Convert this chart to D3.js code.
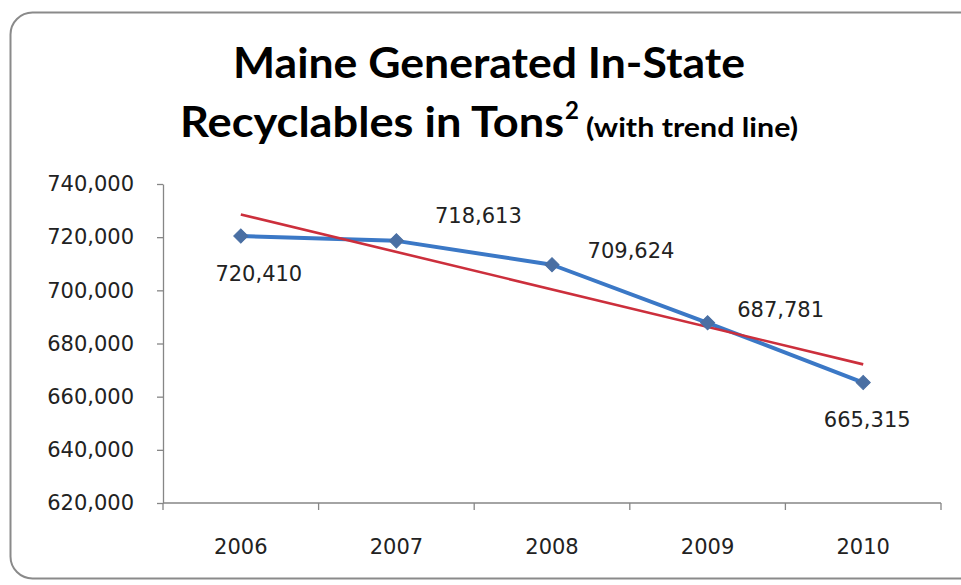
<!DOCTYPE html>
<html>
<head>
<meta charset="utf-8">
<script src="https://cdn.jsdelivr.net/npm/d3@7"></script>
<style>
  html, body { margin: 0; padding: 0; background: #ffffff; }
  svg { display: block; }
</style>
</head>
<body>
<svg id="chart" width="961" height="585"></svg>
<script>
// ---- data ----
const years = ["2006", "2007", "2008", "2009", "2010"];
const tons = [720410, 718613, 709624, 687781, 665315];
const yTicks = [620000, 640000, 660000, 680000, 700000, 720000, 740000];
const titleLine1 = "Maine Generated In-State";
const titleLine2 = "Recyclables in Tons";
const titleSup = "2";
const titleNote = "(with trend line)";

// label placement offsets (styling, relative to each point)
const labelDx = [18, 82, 79, 73, 4];
const labelDy = [45, -18, -7, -6, 44];

const svg = d3.select("#chart");

// chart frame
svg.append("rect")
  .attr("x", 10.5).attr("y", 12.5)
  .attr("width", 975).attr("height", 566)
  .attr("rx", 22).attr("ry", 22)
  .attr("fill", "#ffffff")
  .attr("stroke", "#8a8a8a")
  .attr("stroke-width", 2);

// title
const titleFont = "Lato, 'Open Sans', sans-serif";
svg.append("text")
  .attr("x", 233).attr("y", 78)
  .attr("font-family", titleFont).attr("font-weight", 700)
  .attr("font-size", 42).attr("fill", "#000")
  .attr("textLength", 512).attr("lengthAdjust", "spacingAndGlyphs")
  .text(titleLine1);
svg.append("text")
  .attr("x", 180).attr("y", 137)
  .attr("font-family", titleFont).attr("font-weight", 700)
  .attr("font-size", 42).attr("fill", "#000")
  .attr("textLength", 384).attr("lengthAdjust", "spacingAndGlyphs")
  .text(titleLine2);
svg.append("text")
  .attr("x", 565).attr("y", 119)
  .attr("font-family", titleFont).attr("font-weight", 700)
  .attr("font-size", 24).attr("fill", "#000")
  .text(titleSup);
svg.append("text")
  .attr("x", 586).attr("y", 137)
  .attr("font-family", titleFont).attr("font-weight", 700)
  .attr("font-size", 27).attr("fill", "#000")
  .attr("textLength", 212).attr("lengthAdjust", "spacingAndGlyphs")
  .text(titleNote);

// scales
const x = d3.scaleBand().domain(years).range([163, 941]).padding(0);
const cx = d => x(d) + x.bandwidth() / 2;
const y = d3.scaleLinear().domain([620000, 740000]).range([503, 184]);

const labelFont = "'DejaVu Sans', Verdana, sans-serif";
const axisColor = "#868686";

// y axis
const yAxis = svg.append("g")
  .attr("transform", "translate(163,0)")
  .call(d3.axisLeft(y).tickValues(yTicks).tickFormat(d3.format(","))
    .tickSize(6).tickSizeOuter(0).tickPadding(23));
yAxis.select(".domain").attr("stroke", axisColor).attr("stroke-width", 1.3);
yAxis.selectAll(".tick line").attr("stroke", axisColor).attr("stroke-width", 1.3);
yAxis.selectAll(".tick text")
  .attr("font-family", labelFont).attr("font-size", 21).attr("fill", "#222");

// x axis line and boundary ticks
const xg = svg.append("g");
xg.append("line")
  .attr("x1", 163).attr("x2", 941)
  .attr("y1", y(620000)).attr("y2", y(620000))
  .attr("stroke", axisColor).attr("stroke-width", 1.3);
const bounds = years.map(d => x(d)).concat([x(years[years.length - 1]) + x.bandwidth()]);
xg.selectAll("line.tk").data(bounds).enter().append("line")
  .attr("class", "tk")
  .attr("x1", d => d).attr("x2", d => d)
  .attr("y1", y(620000)).attr("y2", y(620000) + 7)
  .attr("stroke", axisColor).attr("stroke-width", 1.3);
xg.selectAll("text").data(years).enter().append("text")
  .attr("x", d => cx(d)).attr("y", 554)
  .attr("text-anchor", "middle")
  .attr("font-family", labelFont).attr("font-size", 21).attr("fill", "#222")
  .text(d => d);

// data line
const pts = years.map((d, i) => ({ year: d, v: tons[i], i }));
const line = d3.line().x(d => cx(d.year)).y(d => y(d.v));
svg.append("path")
  .datum(pts)
  .attr("d", line)
  .attr("fill", "none")
  .attr("stroke", "#3B78C6")
  .attr("stroke-width", 4)
  .attr("stroke-linejoin", "round");

// linear trend line (least squares fit of the series)
const n = tons.length;
const mx = d3.mean(pts, d => d.i);
const my = d3.mean(tons);
const slope = d3.sum(pts, d => (d.i - mx) * (d.v - my)) / d3.sum(pts, d => (d.i - mx) ** 2);
const icpt = my - slope * mx;
const trend = [pts[0], pts[n - 1]].map(d => ({ year: d.year, v: icpt + slope * d.i }));
svg.append("path")
  .datum(trend)
  .attr("d", line)
  .attr("fill", "none")
  .attr("stroke", "#CC2F3C")
  .attr("stroke-width", 2.6);

// markers (square rotated 45deg -> diamond)
svg.selectAll("path.mk").data(pts).enter().append("path")
  .attr("class", "mk")
  .attr("d", d3.symbol().type(d3.symbolSquare).size(100))
  .attr("transform", d => `translate(${cx(d.year)},${y(d.v)}) rotate(45)`)
  .attr("fill", "#4A6FA3")
  .attr("stroke", "#4A6FA3")
  .attr("stroke-width", 1);

// data labels
svg.selectAll("text.dl").data(pts).enter().append("text")
  .attr("class", "dl")
  .attr("x", d => cx(d.year) + labelDx[d.i])
  .attr("y", d => y(d.v) + labelDy[d.i])
  .attr("text-anchor", "middle")
  .attr("font-family", labelFont).attr("font-size", 21).attr("fill", "#222")
  .text(d => d3.format(",")(d.v));
</script>
</body>
</html>
